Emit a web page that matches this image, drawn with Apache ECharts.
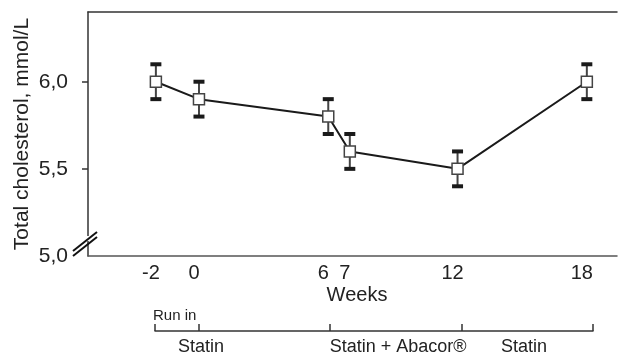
<!DOCTYPE html>
<html>
<head>
<meta charset="utf-8">
<script src="https://cdn.jsdelivr.net/npm/echarts@6/dist/echarts.min.js"></script>
<style>
  html, body { margin: 0; padding: 0; background: #fff; }
  #chart { width: 618px; height: 357px; }
</style>
</head>
<body>
<div id="chart"></div>
<script>
// data
var weeks = [-2, 0, 6, 7, 12, 18]
var cholMean = [6.0, 5.9, 5.8, 5.6, 5.5, 6.0]
var cholErr = [0.1, 0.1, 0.1, 0.1, 0.1, 0.1]
var yTicks = [5.0, 5.5, 6.0]
var phaseTicks = [-2, 0, 6, 12, 18]
var phaseLabels = ['Statin', 'Statin + Abacor®', 'Statin']
var phasePos = [0.1, 9.1, 14.85]

var font = 'Liberation Sans, Arial, sans-serif'
var axisColor = '#333'

function initChart() {
    var myChart = echarts.init(document.getElementById('chart'), null, { renderer: 'canvas' })

    var lineData = weeks.map(function(w, i) { return [w, cholMean[i]] })
    var errData = weeks.map(function(w, i) { return [w, cholMean[i] - cholErr[i], cholMean[i] + cholErr[i]] })

    var option = {
        animation: false,
        grid: [
            { left: 88, right: 1, top: 12, bottom: 101, outerBoundsMode: 'none' },
            { left: 155, right: 25, top: 320, height: 11, outerBoundsMode: 'none' }
        ],
        xAxis: [{
            gridIndex: 0,
            type: 'value',
            min: -5.15,
            max: 19.4,
            name: 'Weeks',
            nameLocation: 'middle',
            nameGap: 29,
            nameMoveOverlap: false,
            nameTextStyle: { fontFamily: font, fontSize: 20, color: '#222', padding: [0, 0, 0, 9] },
            axisLine: { show: true, onZero: false, lineStyle: { color: '#555', width: 1.5 } },
            axisTick: { show: false },
            splitLine: { show: false },
            axisLabel: {
                customValues: weeks,
                margin: 7,
                fontFamily: font,
                fontSize: 20,
                color: '#222',
                padding: [0, 10, 0, 0]
            }
        }, {
            // top frame line
            gridIndex: 0,
            type: 'value',
            position: 'top',
            min: -5.15,
            max: 19.4,
            axisLine: { show: true, onZero: false, lineStyle: { color: axisColor, width: 1.5 } },
            axisTick: { show: false },
            axisLabel: { show: false },
            splitLine: { show: false }
        }, {
            // treatment timeline
            gridIndex: 1,
            type: 'value',
            min: -2,
            max: 18,
            axisLine: { show: true, onZero: false, lineStyle: { color: axisColor, width: 1.5 } },
            axisTick: { show: true, inside: true, length: 7, customValues: phaseTicks, lineStyle: { color: axisColor, width: 1.5 } },
            splitLine: { show: false },
            axisLabel: {
                customValues: phasePos,
                margin: 7,
                fontFamily: font,
                fontSize: 18,
                color: '#222',
                formatter: function(v) {
                    var k = phasePos.indexOf(v)
                    return k >= 0 ? phaseLabels[k] : ''
                }
            }
        }],
        yAxis: [{
            gridIndex: 0,
            type: 'value',
            min: 5.0,
            max: 6.4,
            name: 'Total cholesterol, mmol/L',
            nameLocation: 'middle',
            nameGap: 55,
            nameMoveOverlap: false,
            nameTextStyle: { fontFamily: font, fontSize: 21, color: '#222' },
            axisLine: { show: true, onZero: false, lineStyle: { color: axisColor, width: 1.5 } },
            axisTick: { show: true, length: 6, customValues: yTicks.slice(1), lineStyle: { color: axisColor, width: 1.5 } },
            splitLine: { show: false },
            axisLabel: {
                customValues: yTicks,
                margin: 20,
                fontFamily: font,
                fontSize: 21,
                color: '#222',
                formatter: function(v) { return v.toFixed(1).replace('.', ',') }
            }
        }, {
            gridIndex: 1,
            type: 'value',
            show: false
        }],
        graphic: [
            // axis break marks
            { type: 'line', shape: { x1: 73, y1: 251, x2: 97, y2: 232 }, style: { stroke: '#111', lineWidth: 2 }, z: 100 },
            { type: 'line', shape: { x1: 73, y1: 256, x2: 97, y2: 237 }, style: { stroke: '#111', lineWidth: 2 }, z: 100 },
            { type: 'rect', shape: { x: 86, y: 236, width: 4, height: 5 }, style: { fill: '#fff' }, z: 99 },
            { type: 'text', left: 153, top: 308, style: { text: 'Run in', font: '15px ' + font, fill: '#222' } }
        ],
        series: [{
            type: 'custom',
            xAxisIndex: 0,
            yAxisIndex: 0,
            z: 1,
            data: errData,
            renderItem: function(params, api) {
                var x = api.value(0)
                var lo = api.coord([x, api.value(1)])
                var hi = api.coord([x, api.value(2)])
                var w = 11, h = 4
                return {
                    type: 'group',
                    children: [{
                        type: 'line',
                        shape: { x1: lo[0], y1: lo[1], x2: hi[0], y2: hi[1] },
                        style: { stroke: '#444', lineWidth: 2 }
                    }, {
                        type: 'rect',
                        shape: { x: hi[0] - w / 2, y: hi[1] - h / 2, width: w, height: h },
                        style: { fill: '#1a1a1a' }
                    }, {
                        type: 'rect',
                        shape: { x: lo[0] - w / 2, y: lo[1] - h / 2, width: w, height: h },
                        style: { fill: '#1a1a1a' }
                    }]
                }
            }
        }, {
            type: 'line',
            xAxisIndex: 0,
            yAxisIndex: 0,
            z: 3,
            data: lineData,
            symbol: 'rect',
            symbolSize: 11,
            showAllSymbol: true,
            lineStyle: { color: '#1a1a1a', width: 2 },
            itemStyle: { color: '#fff', borderColor: '#444', borderWidth: 1.5 }
        }]
    }
    myChart.setOption(option)
}

initChart()
</script>
</body>
</html>
